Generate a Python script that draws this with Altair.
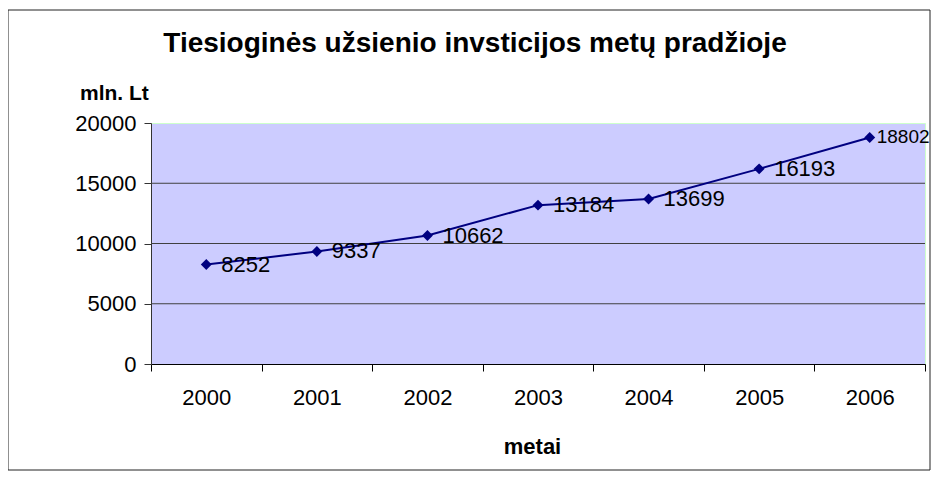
import altair as alt
import pandas as pd

years = ["2000", "2001", "2002", "2003", "2004", "2005", "2006"]
values = [8252, 9337, 10662, 13184, 13699, 16193, 18802]
title_text = "Tiesioginės užsienio invsticijos metų pradžioje"
y_unit = "mln. Lt"
x_title = "metai"
y_ticks = [0, 5000, 10000, 15000, 20000]
grid_vals = [5000, 10000, 15000]

FONT = "Liberation Sans"
W, H = 774, 241

df = pd.DataFrame({"year": years, "value": values})
grid_df = pd.DataFrame({"g": grid_vals})
one = pd.DataFrame({"t": [title_text], "u": [y_unit]})
last_year = years[-1]

x_enc = alt.X(
    "year:N", sort=years,
    scale=alt.Scale(type="band", paddingInner=0, paddingOuter=0),
    axis=alt.Axis(
        title=x_title, labelAngle=0, tickBand="extent", tickSize=7,
        labelPadding=16, labelFontSize=22, labelFont=FONT, labelColor="black",
        titleFont=FONT, titleFontSize=22, titleFontWeight="bold", titleColor="black",
        titlePadding=28, titleX=W / 2 - 6, domainColor="black", tickColor="black", grid=False,
    ),
)
y_enc = alt.Y(
    "value:Q",
    scale=alt.Scale(domain=[0, 20000], nice=False),
    axis=alt.Axis(
        title=None, values=y_ticks, format="d", tickSize=7, labelPadding=8,
        labelFontSize=22, labelFont=FONT, labelColor="black",
        grid=False, domainColor="#333333", tickColor="#333333",
    ),
)

frame = alt.Chart(one).mark_rect(fill=None, stroke="#222222", strokeWidth=1).encode(
    x=alt.value(-143), x2=alt.value(779), y=alt.value(-113), y2=alt.value(347)
)
title = alt.Chart(one).mark_text(
    font=FONT, fontSize=28, fontWeight="bold", align="center", baseline="alphabetic", color="black"
).encode(text="t:N", x=alt.value(324), y=alt.value(-71))
unit = alt.Chart(one).mark_text(
    font=FONT, fontSize=21, fontWeight="bold", align="left", baseline="alphabetic", color="black"
).encode(text="u:N", x=alt.value(-71), y=alt.value(-23))

grid = alt.Chart(grid_df).mark_rule(color="#404040", strokeWidth=1).encode(
    y=alt.Y("g:Q", scale=alt.Scale(domain=[0, 20000], nice=False))
)

base = alt.Chart(df).encode(x=x_enc, y=y_enc)
line = base.mark_line(color="#000080", strokeWidth=2)
pts = base.mark_point(shape="diamond", filled=True, color="#000080", size=120, opacity=1)
labels = base.transform_filter(alt.datum.year != last_year).mark_text(
    align="left", baseline="middle", dx=15, font=FONT, fontSize=22, color="black"
).encode(text="value:Q")
last_label = base.transform_filter(alt.datum.year == last_year).mark_text(
    align="left", baseline="middle", dx=7, font=FONT, fontSize=19, color="black"
).encode(text="value:Q")

chart = alt.layer(frame, title, unit, grid, line, pts, labels, last_label).properties(
    width=W, height=H,
    padding={"left": 143, "top": 115, "right": 6, "bottom": 107},
    autosize=alt.AutoSizeParams(type="none"),
    background="white",
).configure_view(fill="#CCCCFF", stroke="#CCFFCC", strokeWidth=1)

chart.save("out.html", embed_options={"renderer": "svg", "actions": False})
